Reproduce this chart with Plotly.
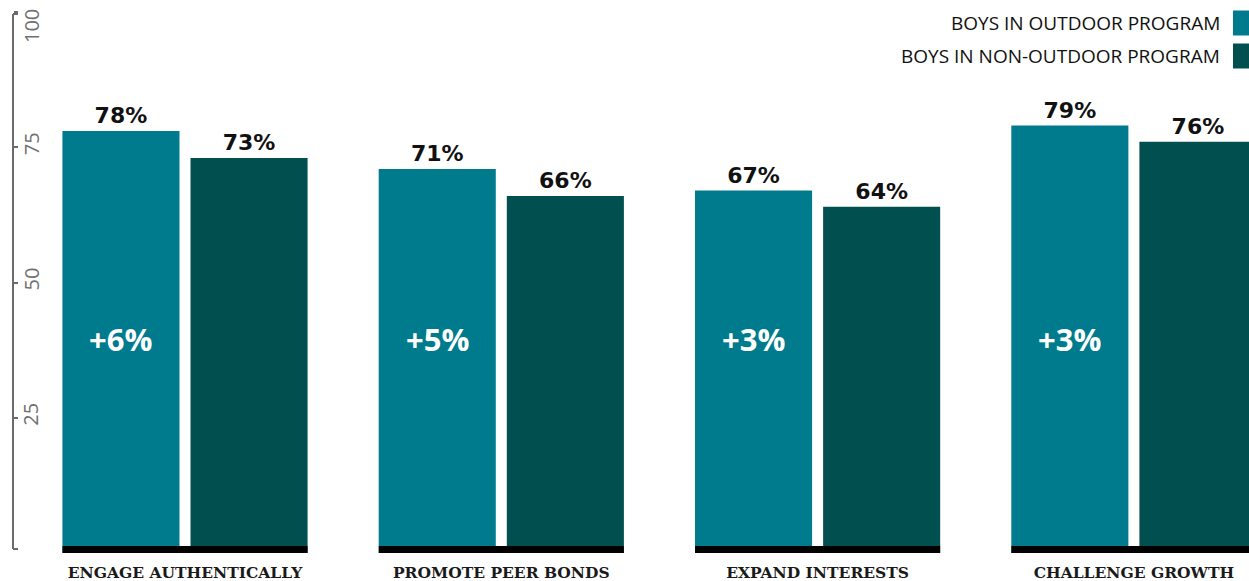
import plotly.graph_objects as go

categories = ["ENGAGE AUTHENTICALLY", "PROMOTE PEER BONDS", "EXPAND INTERESTS", "CHALLENGE GROWTH"]
outdoor = [78, 71, 67, 79]
non_outdoor = [73, 66, 64, 76]
differences = ["+6%", "+5%", "+3%", "+3%"]
series_names = ["BOYS IN OUTDOOR PROGRAM", "BOYS IN NON-OUTDOOR PROGRAM"]
y_ticks = [25, 50, 75, 100]

TEAL = "#007b8e"
DARK = "#01504f"
W, H = 1249, 581

xs = list(range(len(categories)))

# pixel geometry
px_per_x = 316.3
x0_px = 185
xa = -x0_px / px_per_x
xb = xa + W / px_per_x
plot_bottom_px = 553
px_per_y = 5.41
ytop = plot_bottom_px / px_per_y

fig = go.Figure()
for vals, name, color in [(outdoor, series_names[0], TEAL), (non_outdoor, series_names[1], DARK)]:
    fig.add_trace(go.Bar(
        x=xs, y=vals, name=name, marker_color=color, marker_line_width=0,
        text=[f"{v}%" for v in vals], textposition="outside", cliponaxis=False,
        textfont=dict(family="DejaVu Sans", size=22, color="#111111", weight="bold"),
        constraintext="none",
    ))

slot = 0.4048
half_group = slot - 0.0174

shapes = []
annotations = []
for i, d in zip(xs, differences):
    # black base strip under each group
    shapes.append(dict(type="rect", xref="x", yref="y", x0=i - half_group, x1=i + half_group,
                       y0=0, y1=7 / px_per_y, fillcolor="#000000", line_width=0, layer="above"))
    annotations.append(dict(x=i - slot / 2, y=39.5, xref="x", yref="y", text=d, showarrow=False,
                            font=dict(family="Open Sans", size=31, color="#ffffff", weight="bold"),
                            xanchor="center", yanchor="middle"))

# y-axis bracket
ax_x = 13 / W
AXIS_GRAY = "#6b6b6b"
shapes.append(dict(type="line", xref="paper", yref="paper", x0=ax_x, x1=ax_x,
                   y0=1 - 549 / plot_bottom_px, y1=1 - 14 / plot_bottom_px,
                   line=dict(color=AXIS_GRAY, width=2)))
for ypx in (14, 549):
    shapes.append(dict(type="line", xref="paper", yref="paper", x0=ax_x, x1=ax_x + 5 / W,
                       y0=1 - ypx / plot_bottom_px, y1=1 - ypx / plot_bottom_px,
                       line=dict(color=AXIS_GRAY, width=2)))

# y tick labels (rotated), kept inside the canvas at the top
for t in y_ticks:
    annotations.append(dict(x=31 / W, y=t, xref="paper", yref="y", text=str(t), showarrow=False,
                            textangle=-90, xanchor="center", yanchor="middle",
                            yshift=-14 if t == max(y_ticks) else 3,
                            font=dict(family="Open Sans", size=20, color="#707070", weight=500)))

# legend (text with swatch to the right)
for name, color, ypx in zip(series_names, [TEAL, DARK], [23, 56]):
    annotations.append(dict(x=1222 / W, y=1 - ypx / plot_bottom_px, xref="paper", yref="paper",
                            text=name, showarrow=False, xanchor="right", yanchor="middle",
                            font=dict(family="Open Sans", size=19, color="#111111")))
    shapes.append(dict(type="rect", xref="paper", yref="paper", x0=1233 / W, x1=1,
                       y0=1 - (ypx + 12.5) / plot_bottom_px, y1=1 - (ypx - 12.5) / plot_bottom_px,
                       fillcolor=color, line_width=0))

fig.update_layout(
    width=W, height=H,
    margin=dict(l=0, r=0, t=0, b=H - plot_bottom_px, pad=0),
    paper_bgcolor="white", plot_bgcolor="white",
    barmode="group", bargap=0.19, bargroupgap=0.086,
    showlegend=False,
    shapes=shapes, annotations=annotations,
    xaxis=dict(range=[xa, xb], tickvals=xs, ticktext=categories, showgrid=False, zeroline=False,
               showline=False, ticks="", ticklabelstandoff=8,
               tickfont=dict(family="DejaVu Serif", size=15.5, color="#1a1a1a", weight="bold")),
    yaxis=dict(range=[0, ytop], tickvals=y_ticks, showgrid=False, zeroline=False, showline=False,
               anchor="free", position=ax_x, side="right", ticks="outside", ticklen=4, tickwidth=2,
               tickcolor=AXIS_GRAY, showticklabels=False),
)

fig.write_html("out.html")
